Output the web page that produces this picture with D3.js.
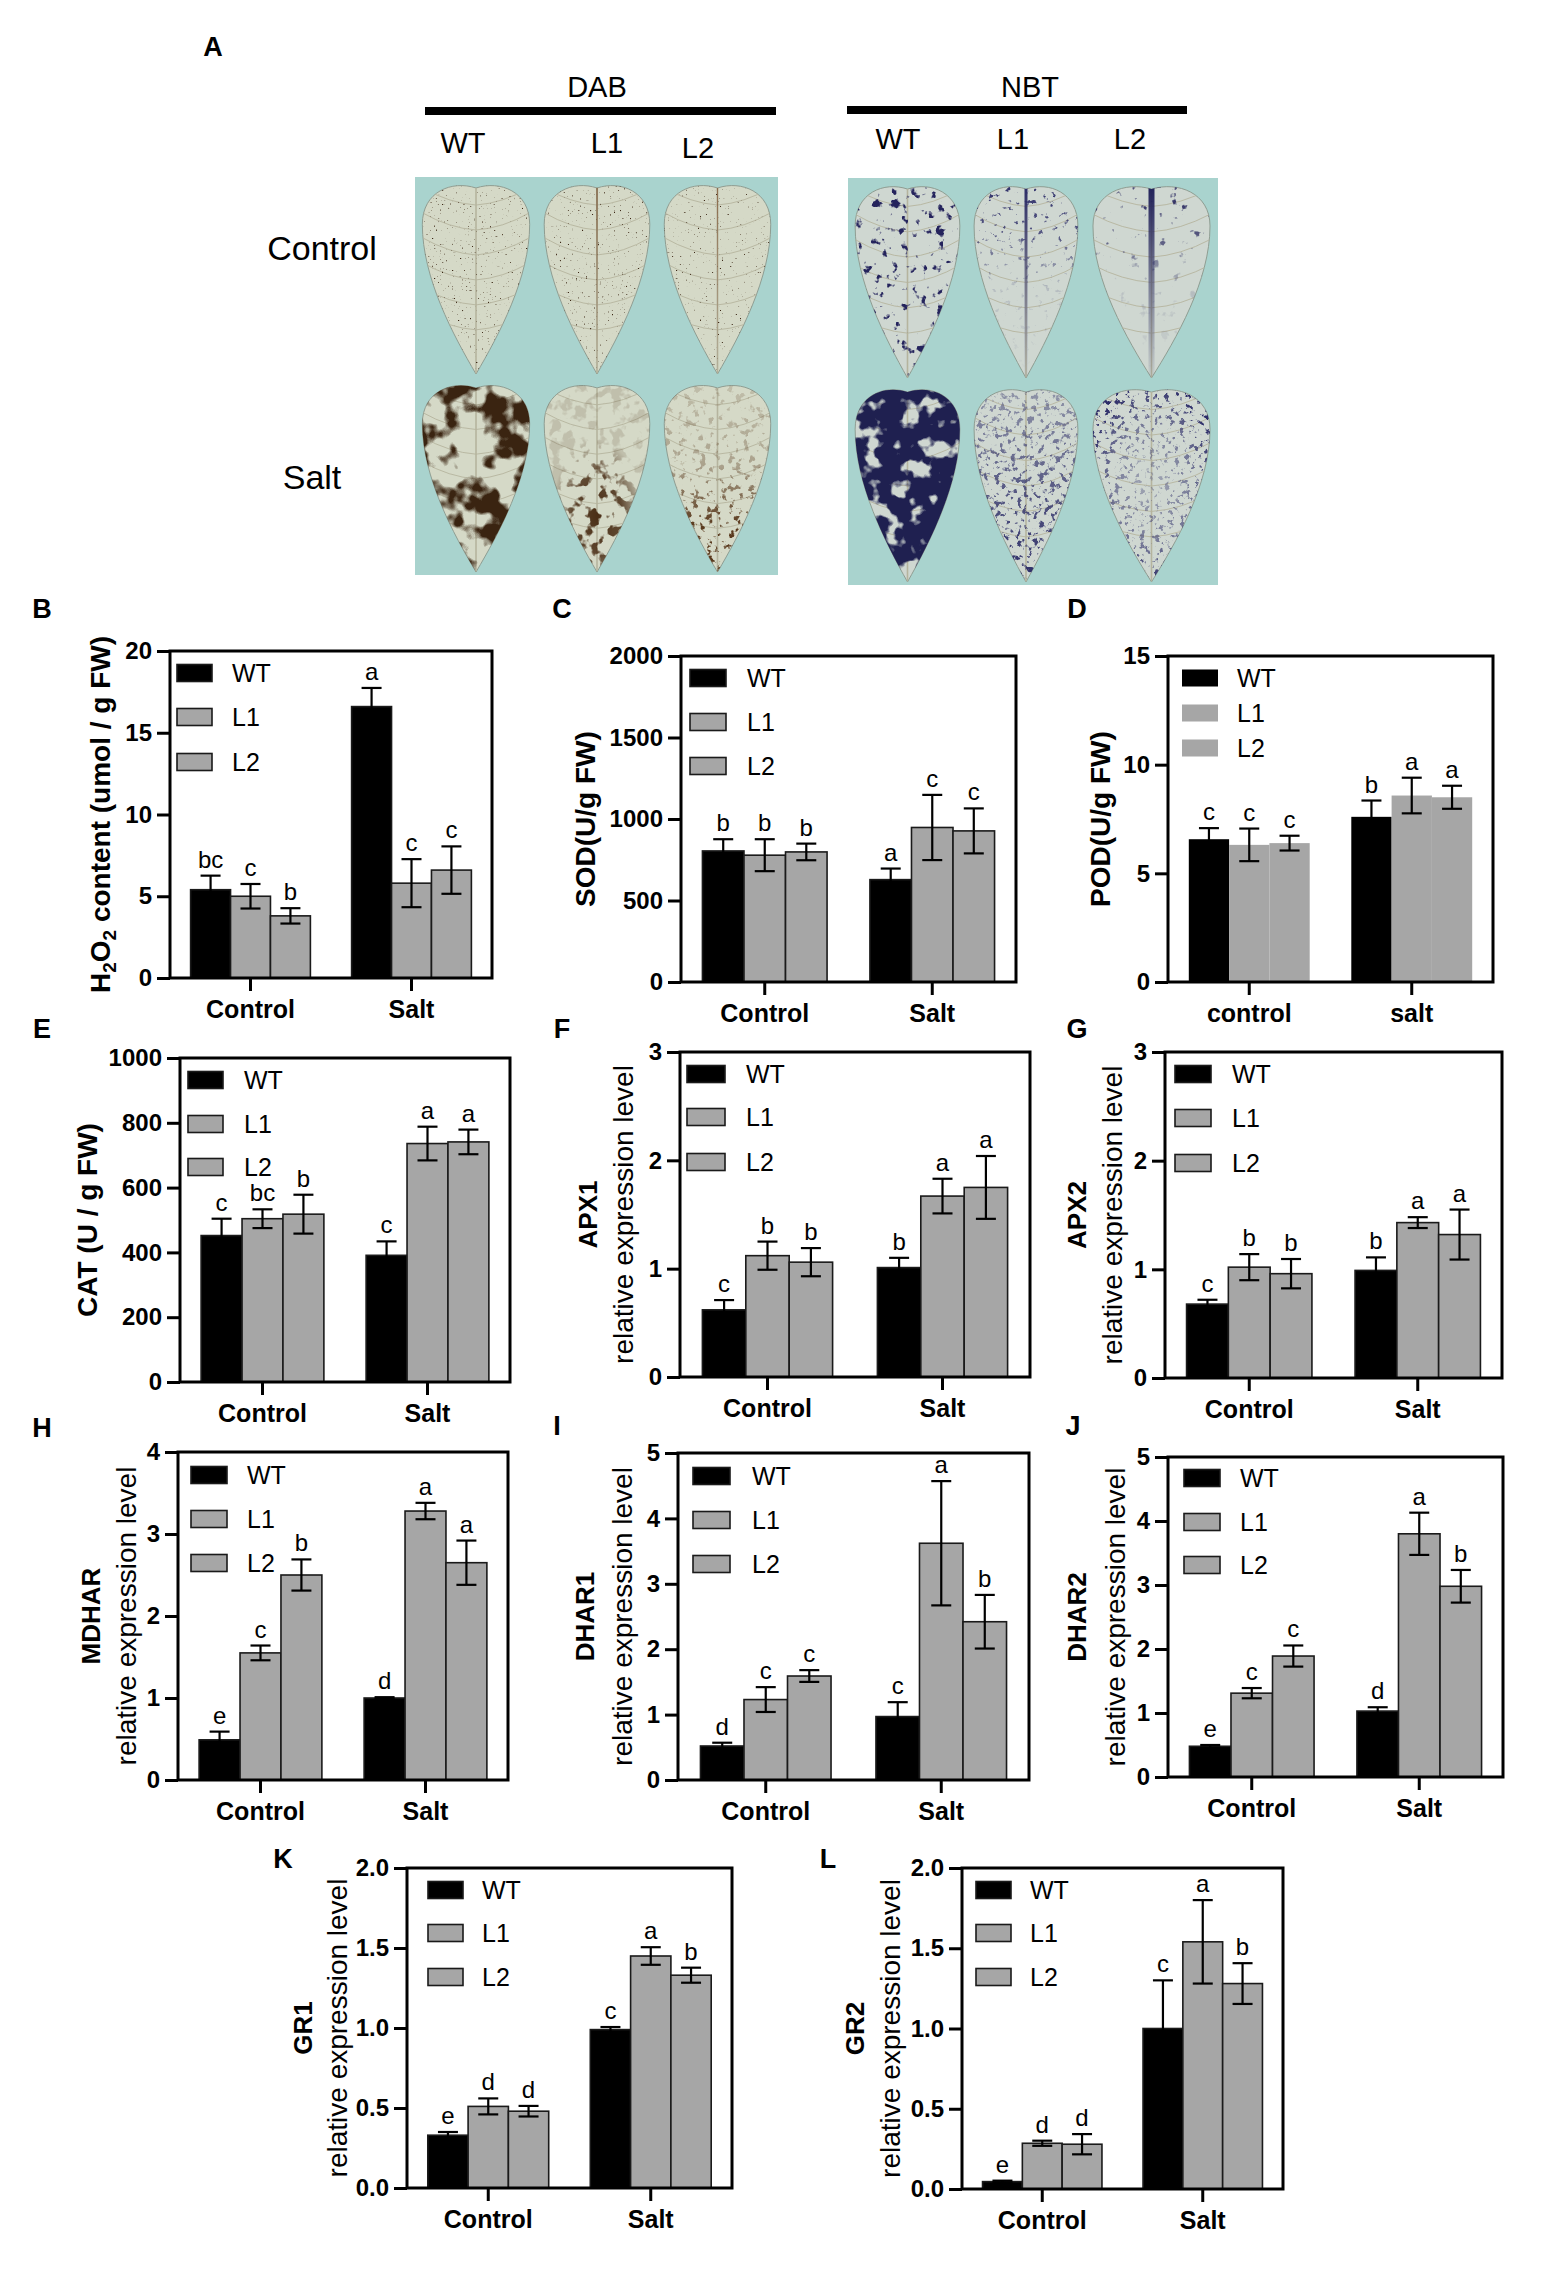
<!DOCTYPE html>
<html>
<head>
<meta charset="utf-8">
<script src="https://cdn.jsdelivr.net/npm/d3@7"></script>
<style>
  body { margin: 0; background: #fff; }
  svg { display: block; font-family: "Liberation Sans", Arial, sans-serif; }
</style>
</head>
<body>
<div id="fig"></div>
<script>
// ---- data ----
const groups = ["Control", "Salt"];
const groupsLower = ["control", "salt"];
const lines = ["WT", "L1", "L2"];

const h2o2Mean = [[5.4, 5.0, 3.8], [16.6, 5.8, 6.6]];
const h2o2Err  = [[0.86, 0.75, 0.47], [1.14, 1.47, 1.45]];
const h2o2Sig  = [["bc", "c", "b"], ["a", "c", "c"]];
const h2o2Ticks = [0, 5, 10, 15, 20];

const sodMean = [[804, 778, 798], [628, 948, 927]];
const sodErr  = [[72, 98, 51], [68, 200, 138]];
const sodSig  = [["b", "b", "b"], ["a", "c", "c"]];
const sodTicks = [0, 500, 1000, 1500, 2000];

const podMean = [[6.57, 6.31, 6.39], [7.60, 8.58, 8.50]];
const podErr  = [[0.51, 0.75, 0.34], [0.75, 0.82, 0.53]];
const podSig  = [["c", "c", "c"], ["b", "a", "a"]];
const podTicks = [0, 5, 10, 15];

const catMean = [[452, 504, 518], [391, 736, 741]];
const catErr  = [[52, 29, 60], [43, 52, 38]];
const catSig  = [["c", "bc", "b"], ["c", "a", "a"]];
const catTicks = [0, 200, 400, 600, 800, 1000];

const apx1Mean = [[0.62, 1.12, 1.06], [1.01, 1.67, 1.75]];
const apx1Err  = [[0.09, 0.13, 0.13], [0.09, 0.16, 0.29]];
const apx1Sig  = [["c", "b", "b"], ["b", "a", "a"]];

const apx2Mean = [[0.68, 1.02, 0.96], [0.99, 1.43, 1.32]];
const apx2Err  = [[0.04, 0.12, 0.135], [0.12, 0.05, 0.23]];
const apx2Sig  = [["c", "b", "b"], ["b", "a", "a"]];
const apxTicks = [0, 1, 2, 3];

const mdharMean = [[0.49, 1.55, 2.50], [1.0, 3.28, 2.65]];
const mdharErr  = [[0.10, 0.09, 0.19], [0.01, 0.10, 0.27]];
const mdharSig  = [["e", "c", "b"], ["d", "a", "a"]];
const mdharTicks = [0, 1, 2, 3, 4];

const dhar1Mean = [[0.52, 1.23, 1.59], [0.97, 3.62, 2.42]];
const dhar1Err  = [[0.05, 0.19, 0.09], [0.22, 0.95, 0.41]];
const dhar1Sig  = [["d", "c", "c"], ["c", "a", "b"]];

const dhar2Mean = [[0.48, 1.31, 1.89], [1.03, 3.80, 2.98]];
const dhar2Err  = [[0.02, 0.08, 0.165], [0.06, 0.33, 0.255]];
const dhar2Sig  = [["e", "c", "c"], ["d", "a", "b"]];
const dharTicks = [0, 1, 2, 3, 4, 5];

const gr1Mean = [[0.33, 0.51, 0.48], [0.99, 1.45, 1.33]];
const gr1Err  = [[0.02, 0.05, 0.033], [0.016, 0.055, 0.047]];
const gr1Sig  = [["e", "d", "d"], ["c", "a", "b"]];

const gr2Mean = [[0.046, 0.285, 0.279], [1.0, 1.54, 1.28]];
const gr2Err  = [[0.006, 0.016, 0.063], [0.30, 0.26, 0.127]];
const gr2Sig  = [["e", "d", "d"], ["c", "a", "b"]];
const grTicks = [0, 0.5, 1.0, 1.5, 2.0];

const stains = ["DAB", "NBT"];
const treatments = ["Control", "Salt"];

// ---- page ----
const W = 1562, H = 2275;
const FONT = '"Liberation Sans", Arial, sans-serif';
const GREY = "#a6a6a6";

const svg = d3.select("#fig").append("svg")
    .attr("width", W)
    .attr("height", H)
    .attr("viewBox", `0 0 ${W} ${H}`);
svg.append("rect").attr("width", W).attr("height", H).attr("fill", "#fff");
const defs = svg.append("defs");

// ---------------- panel A (staining photos, drawn as leaves) ----------------
function addMaskGrad(id, kind) {
    let grad;
    if (kind === "radial" || kind === "edge") {
        grad = defs.append("radialGradient").attr("id", "g" + id);
    } else {
        grad = defs.append("linearGradient").attr("id", "g" + id)
            .attr("x1", 0).attr("y1", 0).attr("x2", 0).attr("y2", 1);
    }
    const stops = {
        all:    [[0, 1], [1, 1]],
        bottom: [[0, 0.15], [0.45, 0.35], [0.75, 1], [1, 1]],
        lower:  [[0, 0.35], [0.5, 0.7], [1, 1]],
        top:    [[0, 1], [0.3, 0.7], [0.55, 0.15], [1, 0]],
        radial: [[0, 1], [0.55, 0.85], [1, 0.15]],
        edge:   [[0, 0.25], [0.6, 0.55], [1, 1]]
    }[kind];
    if (kind === "radial") grad.attr("cx", 0.5).attr("cy", 0.7).attr("r", 0.38);
    if (kind === "edge") grad.attr("cx", 0.5).attr("cy", 0.5).attr("r", 0.5);
    stops.forEach(s => grad.append("stop").attr("offset", s[0]).attr("stop-color", "#fff").attr("stop-opacity", s[1]));
    const m = defs.append("mask").attr("id", "m" + id)
        .attr("maskContentUnits", "objectBoundingBox");
    m.append("rect").attr("width", 1).attr("height", 1).attr("fill", `url(#g${id})`);
}
["all", "bottom", "lower", "top", "radial", "edge"].forEach(k => addMaskGrad(k, k));

// look of each photo (stain texture), row = treatment
const dabLook = [
    [{f: 0.5, t: 0.70, seed: 3, c: "#3b2614", m: "all"},
     {f: 0.5, t: 0.69, seed: 7, c: "#3b2614", m: "all", rib: "#7a5a3a", ribW: 1.4},
     {f: 0.5, t: 0.71, seed: 11, c: "#3b2614", m: "all", rib: "#8a6a4a", ribW: 1.2}],
    [{f: 0.035, t: 0.46, seed: 5, c: "#3a2411", m: "all"},
     {f: 0.08, t: 0.53, seed: 9, c: "#4a2e16", m: "radial"},
     {f: 0.14, t: 0.58, seed: 13, c: "#5a3a1e", m: "bottom"}]
];
const nbtLook = [
    [{f: 0.11, t: 0.62, seed: 4, c: "#24235c", m: "all"},
     {f: 0.16, t: 0.66, seed: 8, c: "#2a2a66", m: "top", rib: "#2a2a66", ribW: 3},
     {f: 0.10, t: 0.68, seed: 12, c: "#24235c", m: "top", rib: "#1f1f58", ribW: 6}],
    [{f: 0.05, t: 0.36, seed: 6, c: "#1f2050", m: "all"},
     {f: 0.18, t: 0.56, seed: 10, c: "#2a2a66", m: "lower"},
     {f: 0.2, t: 0.58, seed: 14, c: "#2c2c68", m: "edge"}]
];

let leafId = 0;
function drawLeaf(x, y, w, h, look, leafFill) {
    const id = "leaf" + (leafId++);
    const g = svg.append("g");
    g.append("rect").attr("x", x).attr("y", y).attr("width", w).attr("height", h)
        .attr("fill", "#a9d3ce");
    const cx = x + w / 2, t = y + h * 0.025, b = y + h * 0.985, hw = w * 0.44, lh = b - t;
    const d = `M${cx},${t + 6} C${cx + hw * 0.45},${t - 2} ${cx + hw},${t + lh * 0.05} ${cx + hw},${t + lh * 0.22}` +
        ` C${cx + hw},${t + lh * 0.5} ${cx + hw * 0.42},${t + lh * 0.8} ${cx},${b}` +
        ` C${cx - hw * 0.42},${t + lh * 0.8} ${cx - hw},${t + lh * 0.5} ${cx - hw},${t + lh * 0.22}` +
        ` C${cx - hw},${t + lh * 0.05} ${cx - hw * 0.45},${t - 2} ${cx},${t + 6} Z`;
    defs.append("clipPath").attr("id", "c" + id).append("path").attr("d", d);

    g.append("path").attr("d", d).attr("fill", leafFill).attr("stroke", "#8f9d92").attr("stroke-width", 1);
    const veins = g.append("g").attr("clip-path", `url(#c${id})`).attr("fill", "none")
        .attr("stroke", "#b5b49e").attr("stroke-width", 0.9);
    veins.append("path").attr("d", `M${cx},${t + 6} L${cx},${b}`).attr("stroke-width", 1.6);
    [0.12, 0.25, 0.38, 0.51, 0.64, 0.77].forEach(k => {
        const vy = t + lh * k;
        veins.append("path").attr("d", `M${cx},${vy} Q${cx + hw * 0.5},${vy - lh * 0.01} ${cx + hw},${vy - lh * 0.09}`);
        veins.append("path").attr("d", `M${cx},${vy} Q${cx - hw * 0.5},${vy - lh * 0.01} ${cx - hw},${vy - lh * 0.09}`);
    });

    // stain texture
    const k = 9;
    const f = defs.append("filter").attr("id", "f" + id)
        .attr("filterUnits", "userSpaceOnUse")
        .attr("x", x).attr("y", y).attr("width", w).attr("height", h)
        .attr("color-interpolation-filters", "sRGB");
    f.append("feTurbulence").attr("type", "fractalNoise").attr("baseFrequency", look.f)
        .attr("numOctaves", 3).attr("seed", look.seed).attr("result", "n");
    f.append("feColorMatrix").attr("in", "n").attr("type", "matrix")
        .attr("values", `0 0 0 0 0  0 0 0 0 0  0 0 0 0 0  ${k} 0 0 0 ${-k * look.t}`).attr("result", "a");
    f.append("feFlood").attr("flood-color", look.c).attr("result", "col");
    f.append("feComposite").attr("in", "col").attr("in2", "a").attr("operator", "in");

    const clipG = g.append("g").attr("clip-path", `url(#c${id})`);
    clipG.append("rect").attr("x", x).attr("y", y).attr("width", w).attr("height", h)
        .attr("fill", "#000")
        .attr("filter", `url(#f${id})`)
        .attr("mask", `url(#m${look.m})`);
    if (look.rib) {
        const gid = "rg" + id;
        const rg = defs.append("linearGradient").attr("id", gid)
            .attr("gradientUnits", "userSpaceOnUse")
            .attr("x1", 0).attr("y1", t).attr("x2", 0).attr("y2", b);
        rg.append("stop").attr("offset", 0).attr("stop-color", look.rib).attr("stop-opacity", 1);
        rg.append("stop").attr("offset", 0.5).attr("stop-color", look.rib).attr("stop-opacity", 0.5);
        rg.append("stop").attr("offset", 1).attr("stop-color", look.rib).attr("stop-opacity", 0.05);
        clipG.append("path").attr("d", `M${cx},${t} L${cx},${b}`)
            .attr("stroke", `url(#${gid})`).attr("stroke-width", look.ribW).attr("fill", "none");
    }
}

const dabCols = [415, 537, 657, 778], dabRows = [177, 377, 575];
const nbtCols = [848, 967, 1085, 1218], nbtRows = [178, 381, 585];
treatments.forEach((tr, ri) => {
    lines.forEach((ln, ci) => {
        drawLeaf(dabCols[ci], dabRows[ri], dabCols[ci + 1] - dabCols[ci], dabRows[ri + 1] - dabRows[ri], dabLook[ri][ci], "#d5d9c7");
        drawLeaf(nbtCols[ci], nbtRows[ri], nbtCols[ci + 1] - nbtCols[ci], nbtRows[ri + 1] - nbtRows[ri], nbtLook[ri][ci], "#cfd7d1");
    });
});

const aText = svg.append("g").attr("font-family", FONT).attr("fill", "#000");
aText.append("text").attr("x", 213).attr("y", 56).attr("text-anchor", "middle")
    .attr("font-size", 27).attr("font-weight", "bold").text("A");
const stainHeads = [{x: 597, x1: 425, x2: 776, by: 111}, {x: 1030, x1: 847, x2: 1187, by: 110}];
stains.forEach((s, i) => {
    aText.append("text").attr("x", stainHeads[i].x).attr("y", 97).attr("text-anchor", "middle")
        .attr("font-size", 29).text(s);
    aText.append("line").attr("x1", stainHeads[i].x1).attr("x2", stainHeads[i].x2)
        .attr("y1", stainHeads[i].by).attr("y2", stainHeads[i].by)
        .attr("stroke", "#000").attr("stroke-width", 8);
});
const colLabelPos = [[[463, 153], [607, 153], [698, 158]], [[898, 149], [1013, 149], [1130, 149]]];
stains.forEach((s, si) => lines.forEach((ln, li) => {
    aText.append("text").attr("x", colLabelPos[si][li][0]).attr("y", colLabelPos[si][li][1])
        .attr("text-anchor", "middle").attr("font-size", 29).text(ln);
}));
const rowLabelPos = [[322, 260], [312, 489]];
treatments.forEach((tr, i) => {
    aText.append("text").attr("x", rowLabelPos[i][0]).attr("y", rowLabelPos[i][1])
        .attr("text-anchor", "middle").attr("font-size", 34).text(tr);
});

// ---------------- bar chart panels ----------------
const REL = "relative expression level";
const panels = [
    {id: "B", cats: groups, mean: h2o2Mean, err: h2o2Err, sig: h2o2Sig, ticks: h2o2Ticks,
     frame: [170, 651, 492, 978], label: [42, 608], legend: {x: 177, w: 35, ys: [673, 717, 762], tx: 232},
     titles: [{h2o2: true, x: 100}], outline: true},
    {id: "C", cats: groups, mean: sodMean, err: sodErr, sig: sodSig, ticks: sodTicks,
     frame: [681, 656, 1016, 982], label: [562, 608], legend: {x: 690, w: 36, ys: [678, 722, 766], tx: 747},
     titles: [{text: "SOD(U/g FW)", x: 585, bold: true}], outline: true},
    {id: "D", cats: groupsLower, mean: podMean, err: podErr, sig: podSig, ticks: podTicks,
     frame: [1168, 656, 1493, 982], label: [1077, 608], legend: {x: 1182, w: 36, ys: [678, 713, 748], tx: 1237},
     titles: [{text: "POD(U/g FW)", x: 1100, bold: true}], outline: false},
    {id: "E", cats: groups, mean: catMean, err: catErr, sig: catSig, ticks: catTicks,
     frame: [180, 1058, 510, 1382], label: [42, 1028], legend: {x: 188, w: 35, ys: [1080, 1124, 1167], tx: 244},
     titles: [{text: "CAT (U / g FW)", x: 87, bold: true}], outline: true},
    {id: "F", cats: groups, mean: apx1Mean, err: apx1Err, sig: apx1Sig, ticks: apxTicks,
     frame: [680, 1052, 1030, 1377], label: [562, 1028], legend: {x: 687, w: 38, ys: [1074, 1117, 1162], tx: 746},
     titles: [{text: "APX1", x: 588, bold: true, size: 26}, {text: REL, x: 623}], outline: true},
    {id: "G", cats: groups, mean: apx2Mean, err: apx2Err, sig: apx2Sig, ticks: apxTicks,
     frame: [1165, 1052, 1502, 1378], label: [1077, 1028], legend: {x: 1175, w: 36, ys: [1074, 1118, 1163], tx: 1232},
     titles: [{text: "APX2", x: 1077, bold: true, size: 26}, {text: REL, x: 1112}], outline: true},
    {id: "H", cats: groups, mean: mdharMean, err: mdharErr, sig: mdharSig, ticks: mdharTicks,
     frame: [178, 1452, 508, 1780], label: [42, 1427], legend: {x: 191, w: 36, ys: [1475, 1519, 1563], tx: 247},
     titles: [{text: "MDHAR", x: 91, bold: true, size: 26}, {text: REL, x: 126}], outline: true},
    {id: "I", cats: groups, mean: dhar1Mean, err: dhar1Err, sig: dhar1Sig, ticks: dharTicks,
     frame: [678, 1453, 1029, 1780], label: [557, 1425], legend: {x: 693, w: 37, ys: [1476, 1520, 1564], tx: 752},
     titles: [{text: "DHAR1", x: 585, bold: true, size: 26}, {text: REL, x: 622}], outline: true},
    {id: "J", cats: groups, mean: dhar2Mean, err: dhar2Err, sig: dhar2Sig, ticks: dharTicks,
     frame: [1168, 1457, 1503, 1777], label: [1073, 1425], legend: {x: 1184, w: 36, ys: [1478, 1522, 1565], tx: 1240},
     titles: [{text: "DHAR2", x: 1077, bold: true, size: 26}, {text: REL, x: 1115}], outline: true},
    {id: "K", cats: groups, mean: gr1Mean, err: gr1Err, sig: gr1Sig, ticks: grTicks, fmt: ".1f",
     frame: [407, 1868, 732, 2188], label: [283, 1858], legend: {x: 428, w: 35, ys: [1890, 1933, 1977], tx: 482},
     titles: [{text: "GR1", x: 303, bold: true, size: 26}, {text: REL, x: 337}], outline: true},
    {id: "L", cats: groups, mean: gr2Mean, err: gr2Err, sig: gr2Sig, ticks: grTicks, fmt: ".1f",
     frame: [962, 1868, 1283, 2189], label: [828, 1858], legend: {x: 976, w: 35, ys: [1890, 1933, 1977], tx: 1030},
     titles: [{text: "GR2", x: 855, bold: true, size: 26}, {text: REL, x: 890}], outline: true}
];

function drawPanel(p) {
    const [l, t, r, b] = p.frame;
    const g = svg.append("g").attr("font-family", FONT);
    const y = d3.scaleLinear().domain([0, d3.max(p.ticks)]).range([b, t]);
    const x0 = d3.scaleBand().domain(p.cats).range([l, r]);
    const bw = x0.step() * 0.248;
    const x1 = d3.scaleBand().domain(lines).range([-1.5 * bw, 1.5 * bw]);
    const fill = ln => ln === "WT" ? "#000" : GREY;

    const rows = p.cats.flatMap((c, gi) => lines.map((ln, li) => ({
        c, ln, v: p.mean[gi][li], e: p.err[gi][li], s: p.sig[gi][li]
    })));
    const cx = d => x0(d.c) + x0.bandwidth() / 2 + x1(d.ln) + x1.bandwidth() / 2;

    g.append("g").selectAll("rect").data(rows).join("rect")
        .attr("x", d => x0(d.c) + x0.bandwidth() / 2 + x1(d.ln))
        .attr("y", d => y(d.v))
        .attr("width", x1.bandwidth())
        .attr("height", d => b - y(d.v))
        .attr("fill", d => fill(d.ln))
        .attr("stroke", p.outline ? "#1a1a1a" : "none")
        .attr("stroke-width", 1.6);

    // error bars
    const eb = g.append("g").attr("stroke", "#000").attr("stroke-width", 2.2).attr("fill", "none");
    rows.forEach(d => {
        const xc = cx(d), hi = y(d.v + d.e), lo = y(d.v - d.e);
        eb.append("line").attr("x1", xc).attr("x2", xc).attr("y1", hi).attr("y2", lo);
        eb.append("line").attr("x1", xc - 10).attr("x2", xc + 10).attr("y1", hi).attr("y2", hi);
        eb.append("line").attr("x1", xc - 10).attr("x2", xc + 10).attr("y1", lo).attr("y2", lo);
    });

    // significance letters
    g.append("g").selectAll("text").data(rows).join("text")
        .attr("x", cx)
        .attr("y", d => y(d.v + d.e) - 8)
        .attr("text-anchor", "middle")
        .attr("font-size", 24)
        .text(d => d.s);

    // frame
    g.append("rect").attr("x", l).attr("y", t).attr("width", r - l).attr("height", b - t)
        .attr("fill", "none").attr("stroke", "#000").attr("stroke-width", 3);

    // y axis
    const ya = g.append("g").attr("transform", `translate(${l},0)`)
        .call(d3.axisLeft(y).tickValues(p.ticks).tickSize(13).tickPadding(5)
            .tickFormat(d3.format(p.fmt || "d")));
    ya.attr("font-family", null).attr("font-size", null);
    ya.select(".domain").remove();
    ya.selectAll("line").attr("stroke", "#000").attr("stroke-width", 3);
    ya.selectAll("text").attr("fill", "#000").attr("font-size", 24).attr("font-weight", "bold");

    // x axis
    const xa = g.append("g").attr("transform", `translate(0,${b})`)
        .call(d3.axisBottom(x0).tickSize(13).tickPadding(9));
    xa.attr("font-family", null).attr("font-size", null);
    xa.select(".domain").remove();
    xa.selectAll("line").attr("stroke", "#000").attr("stroke-width", 3);
    xa.selectAll("text").attr("fill", "#000").attr("font-size", 25).attr("font-weight", "bold");

    // legend
    const lg = g.append("g");
    lines.forEach((ln, i) => {
        const ly = p.legend.ys[i];
        lg.append("rect").attr("x", p.legend.x).attr("y", ly - 8.5)
            .attr("width", p.legend.w).attr("height", 17)
            .attr("fill", fill(ln))
            .attr("stroke", p.outline ? "#1a1a1a" : "none").attr("stroke-width", 1.6);
        lg.append("text").attr("x", p.legend.tx).attr("y", ly).attr("dy", "0.35em")
            .attr("font-size", 25).text(ln);
    });

    // y titles
    const cy = (t + b) / 2;
    p.titles.forEach(tt => {
        const tx = g.append("text")
            .attr("transform", `translate(${tt.x},${cy}) rotate(-90)`)
            .attr("text-anchor", "middle")
            .attr("dy", "0.35em")
            .attr("font-size", tt.size || 28)
            .attr("font-weight", tt.bold || tt.h2o2 ? "bold" : "normal");
        if (tt.h2o2) {
            tx.append("tspan").text("H");
            tx.append("tspan").attr("dy", 6).attr("font-size", 19).text("2");
            tx.append("tspan").attr("dy", -6).text("O");
            tx.append("tspan").attr("dy", 6).attr("font-size", 19).text("2");
            tx.append("tspan").attr("dy", -6).text(" content (umol / g FW)");
        } else {
            tx.text(tt.text);
        }
    });

    // panel letter
    g.append("text").attr("x", p.label[0]).attr("y", p.label[1] + 10)
        .attr("text-anchor", "middle").attr("font-size", 27).attr("font-weight", "bold")
        .text(p.id);
}

panels.forEach(drawPanel);
</script>
</body>
</html>
